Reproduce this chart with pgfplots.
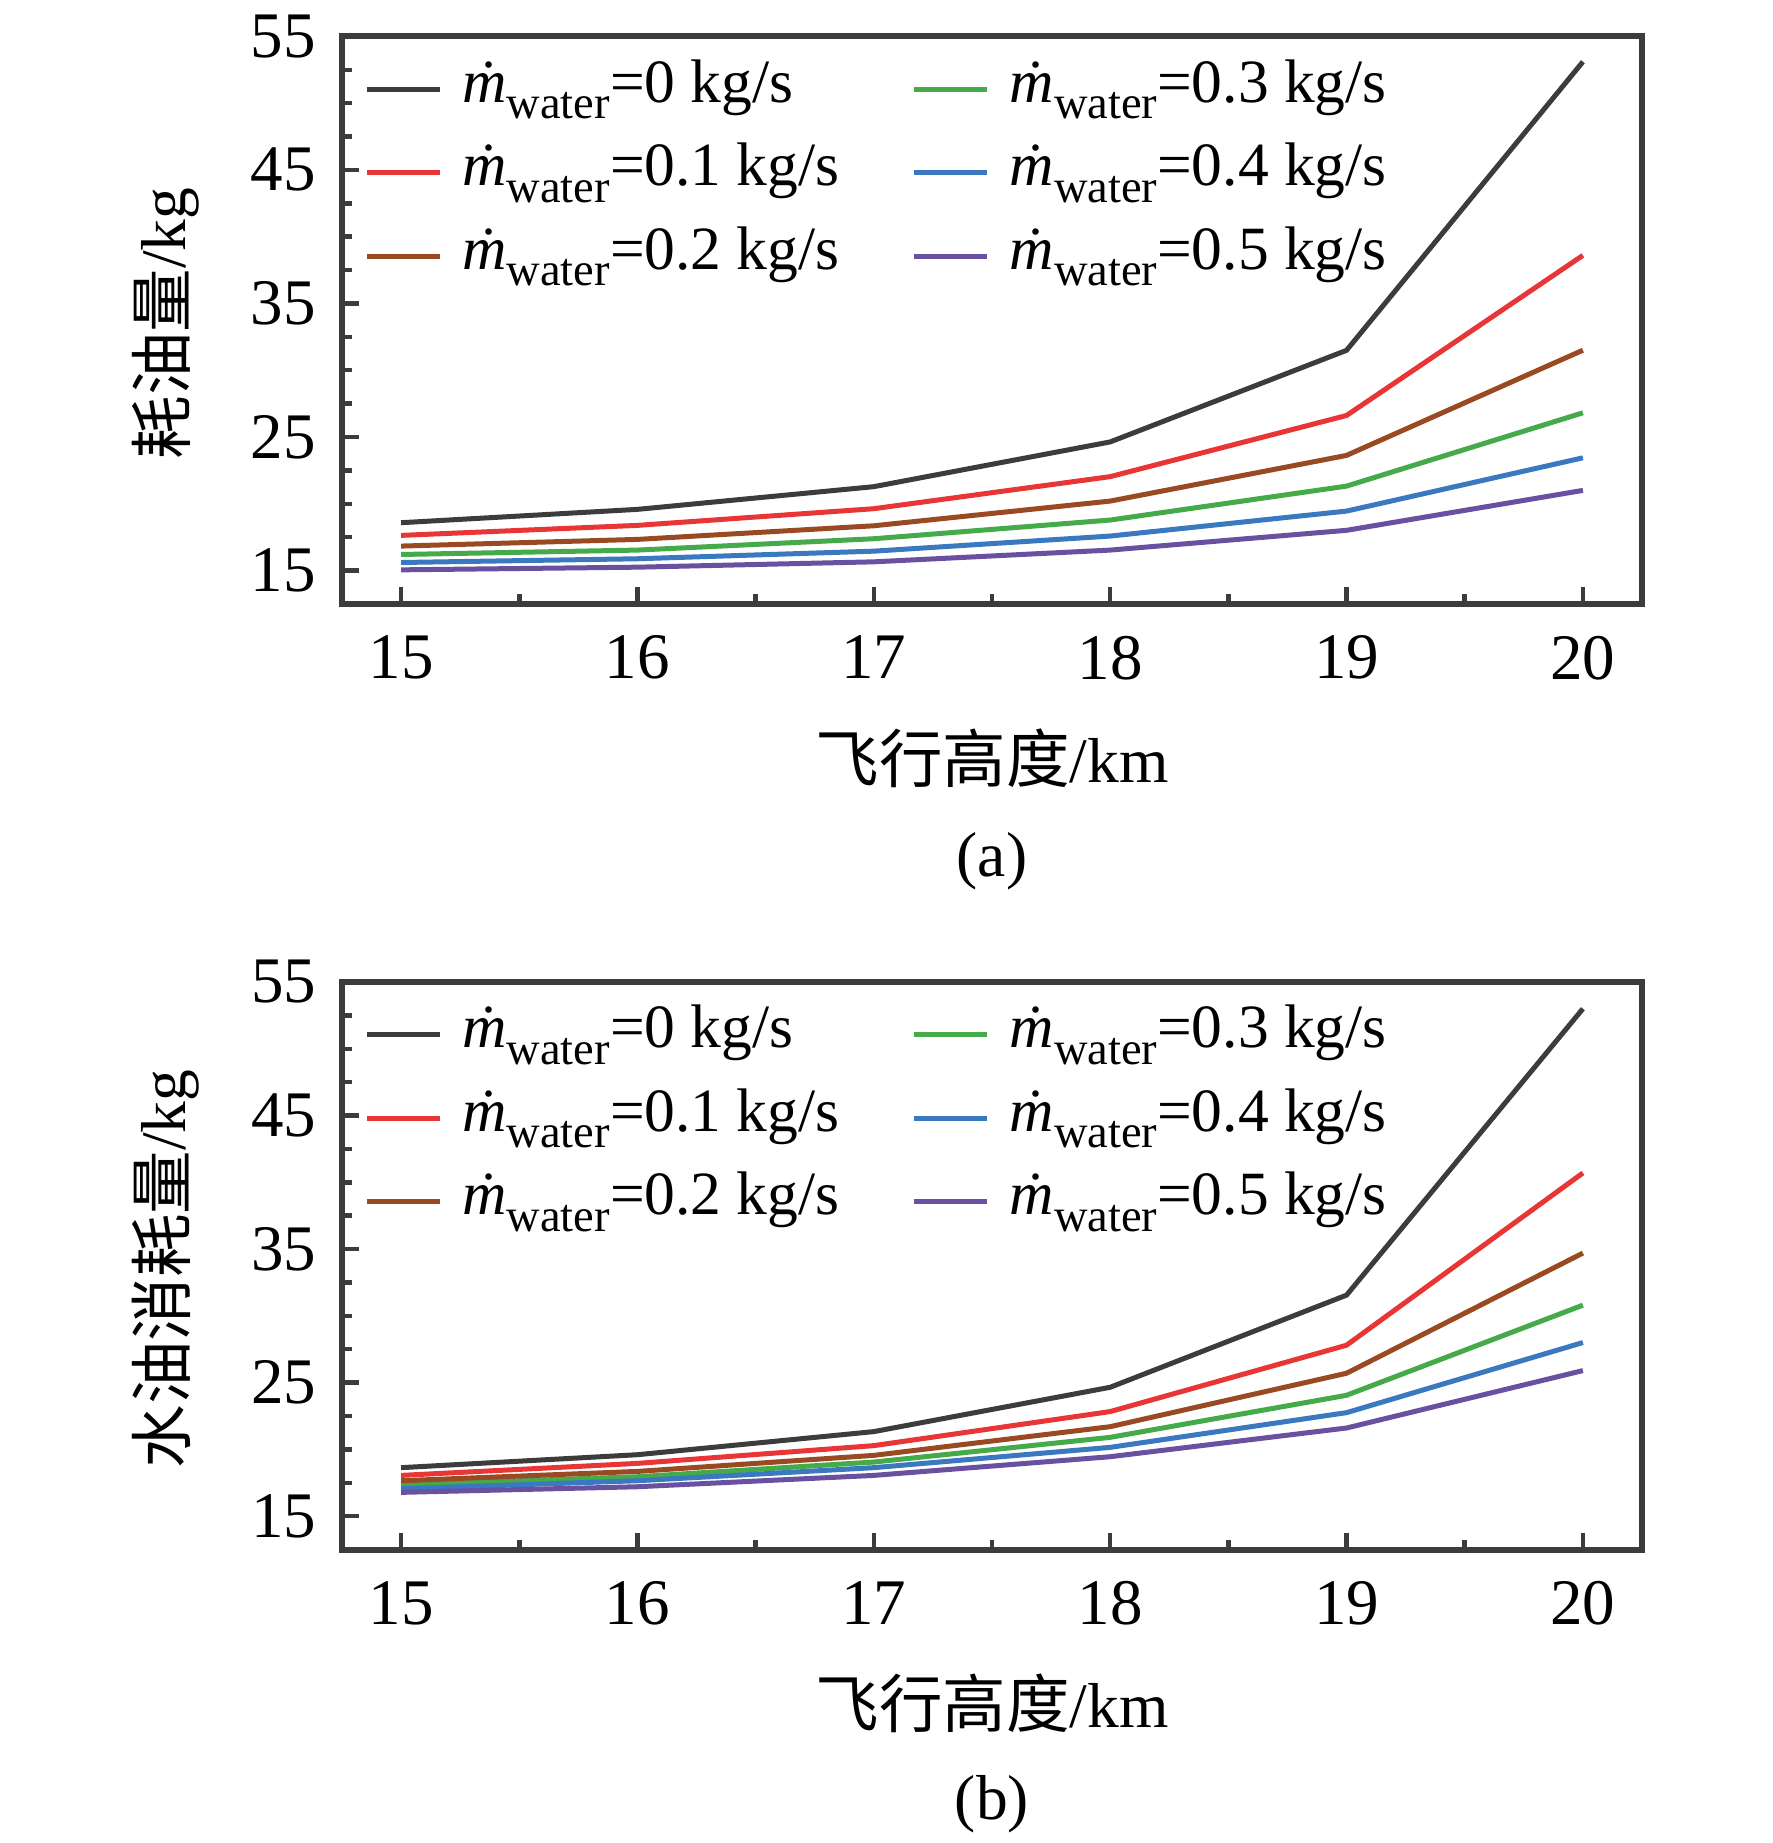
\documentclass[border=0pt]{standalone}
\usepackage{fontspec}
\setmainfont{Liberation Serif}
\newfontfamily\cjk{Noto Sans CJK SC}
\usepackage{pgfplots}
\pgfplotsset{compat=1.18}
\definecolor{cK}{HTML}{3C3C3C}
\definecolor{cR}{HTML}{E83535}
\definecolor{cBr}{HTML}{9A4A22}
\definecolor{cG}{HTML}{44AA4A}
\definecolor{cBl}{HTML}{3A78C0}
\definecolor{cP}{HTML}{6A50A0}
\newcommand{\mw}[1]{\makebox[93.8pt][l]{\hspace{4pt}\textit{ṁ}\raisebox{-0.27em}{\fontsize{9.3}{10}\selectfont water}=#1 kg/s}}
\pgfplotsset{panel/.style={
  scale only axis, width=260pt, height=113.5pt,
  xmin=14.75, xmax=20.25, ymin=12.5, ymax=55,
  xtick={15,16,17,18,19,20}, minor x tick num=1,
  ytick={15,25,35,45,55}, minor y tick num=3,
  tick align=inside, xtick pos=bottom, ytick pos=left,
  major tick length=3.3pt, minor tick length=2pt,
  every tick/.style={color=cK, line width=0.9pt},
  axis line style={line width=1.2pt, color=cK},
  /pgf/number format/assume math mode=true,
  tick label style={font=\fontsize{13}{14}\selectfont},
  xticklabel style={inner sep=0pt, yshift=-6.2pt},
  yticklabel style={inner sep=0pt, xshift=-5pt},
  label style={font=\fontsize{12.7}{14}\selectfont},
  xlabel style={at={(axis description cs:0.5,0)}, anchor=center, yshift=-30.8pt},
  ylabel style={at={(axis description cs:-0.136,0.494)}, anchor=center},
  legend columns=2,
  legend style={at={(axis description cs:0.017,0.759)}, anchor=west, draw=none, fill=none,
    inner sep=0pt, outer sep=0pt, row sep=3.7pt, column sep=0pt,
    nodes={inner sep=0pt, text height=9pt, text depth=4pt, anchor=base},
    font=\fontsize{12.3}{13}\selectfont},
  legend cell align=left,
  legend image code/.code={\draw[##1, line width=1.05pt] (0pt,0.26em) -- (14.6pt,0.26em);},
  every axis plot/.append style={line width=1pt, no marks},
  clip=false
}}
\begin{document}
\begin{tikzpicture}
\begin{axis}[panel, name=a, at={(68.4pt,-7.28pt)}, anchor=north west,
  xlabel={{\cjk 飞行高度}/km}, ylabel={{\cjk 耗油量}/kg}]
\addplot[cK]  coordinates {(15,18.58) (16,19.58) (17,21.28) (18,24.63) (19,31.49) (20,53.1)};
\addlegendentry{\mw{0}}
\addplot[cG]  coordinates {(15,16.2) (16,16.53) (17,17.38) (18,18.78) (19,21.32) (20,26.81)};
\addlegendentry{\mw{0.3}}
\addplot[cR]  coordinates {(15,17.63) (16,18.38) (17,19.63) (18,22.03) (19,26.61) (20,38.6)};
\addlegendentry{\mw{0.1}}
\addplot[cBl] coordinates {(15,15.6) (16,15.88) (17,16.45) (18,17.58) (19,19.45) (20,23.44)};
\addlegendentry{\mw{0.4}}
\addplot[cBr] coordinates {(15,16.83) (16,17.33) (17,18.35) (18,20.2) (19,23.62) (20,31.5)};
\addlegendentry{\mw{0.2}}
\addplot[cP]  coordinates {(15,15.05) (16,15.25) (17,15.65) (18,16.53) (19,18.01) (20,21.0)};
\addlegendentry{\mw{0.5}}
\end{axis}
\node[font=\fontsize{12.7}{14}\selectfont] at ([yshift=-51.4pt]a.south) {(a)};
\begin{axis}[panel, name=b, at={(68.4pt,-196.4pt)}, anchor=north west,
  xlabel={{\cjk 飞行高度}/km}, ylabel={{\cjk 水油消耗量}/kg}]
\addplot[cK]  coordinates {(15,18.63) (16,19.6) (17,21.33) (18,24.65) (19,31.55) (20,53.0)};
\addlegendentry{\mw{0}}
\addplot[cG]  coordinates {(15,17.35) (16,17.95) (17,19.05) (18,20.9) (19,24.05) (20,30.8)};
\addlegendentry{\mw{0.3}}
\addplot[cR]  coordinates {(15,18.05) (16,18.95) (17,20.28) (18,22.83) (19,27.8) (20,40.7)};
\addlegendentry{\mw{0.1}}
\addplot[cBl] coordinates {(15,17.05) (16,17.65) (17,18.63) (18,20.15) (19,22.75) (20,28.0)};
\addlegendentry{\mw{0.4}}
\addplot[cBr] coordinates {(15,17.65) (16,18.35) (17,19.55) (18,21.7) (19,25.7) (20,34.7)};
\addlegendentry{\mw{0.2}}
\addplot[cP]  coordinates {(15,16.78) (16,17.2) (17,18.05) (18,19.45) (19,21.6) (20,25.9)};
\addlegendentry{\mw{0.5}}
\end{axis}
\node[font=\fontsize{12.7}{14}\selectfont] at ([yshift=-50.9pt]b.south) {(b)};
\pgfresetboundingbox
\path[use as bounding box] (0,0) rectangle (354.4pt,-368.6pt);
\end{tikzpicture}
\end{document}
